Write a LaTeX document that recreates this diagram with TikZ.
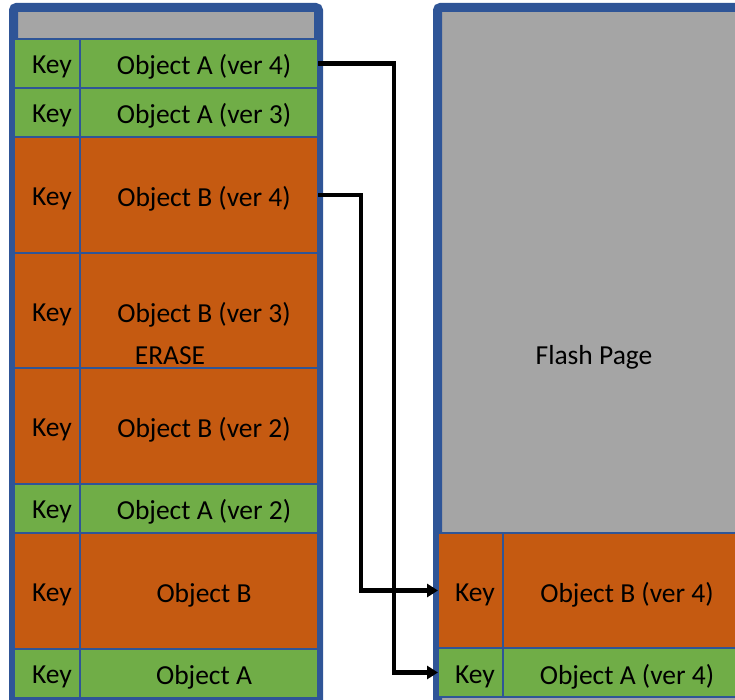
\documentclass[tikz,border=0pt]{standalone}
\usepackage{fontspec}
\setmainfont{Carlito}
\usetikzlibrary{arrows.meta}
\definecolor{pgreen}{HTML}{70AD47}
\definecolor{porange}{HTML}{C55A11}
\definecolor{pgray}{HTML}{A5A5A5}
\definecolor{pblue}{HTML}{2F5597}
\begin{document}
\begin{tikzpicture}[x=1pt,y=-1pt,
  page/.style={draw=pblue, line width=9pt, fill=pgray, rounded corners=3pt},
  cell/.style={draw=pblue, line width=1.5pt, inner sep=0pt, outer sep=0pt, anchor=north west},
  gcell/.style={cell, fill=pgreen},
  ocell/.style={cell, fill=porange},
  lbl/.style={font=\fontsize{27.5}{32}\selectfont, text=black, inner sep=0pt},
  conn/.style={line width=4.5pt, -{Triangle[length=11pt,width=13pt]}}]
\useasboundingbox (0,0) rectangle (735,700);
\clip (0,0) rectangle (735,700);
% pages
\draw[page] (13.5,7.5) rectangle (318.5,730);
\draw[page] (437.5,7.5) rectangle (780,730);
% left page rows
\node[gcell, minimum width=66pt, minimum height=49pt]  (k1) at (14,39)  {};
\node[gcell, minimum width=238pt, minimum height=49pt] (oA4) at (80,39) {};
\node[gcell, minimum width=66pt, minimum height=49pt]  (k2) at (14,88)  {};
\node[gcell, minimum width=238pt, minimum height=49pt] (oA3) at (80,88) {};
\node[ocell, minimum width=66pt, minimum height=116pt]  (k3) at (14,137)  {};
\node[ocell, minimum width=238pt, minimum height=116pt] (oB4) at (80,137) {};
\node[ocell, minimum width=66pt, minimum height=115pt]  (k4) at (14,253)  {};
\node[ocell, minimum width=238pt, minimum height=115pt] (oB3) at (80,253) {};
\node[ocell, minimum width=66pt, minimum height=116pt]  (k5) at (14,368)  {};
\node[ocell, minimum width=238pt, minimum height=116pt] (oB2) at (80,368) {};
\node[gcell, minimum width=66pt, minimum height=49pt]  (k6) at (14,484)  {};
\node[gcell, minimum width=238pt, minimum height=49pt] (oA2) at (80,484) {};
\node[ocell, minimum width=66pt, minimum height=116pt]  (k7) at (14,533)  {};
\node[ocell, minimum width=238pt, minimum height=116pt] (oB1) at (80,533) {};
\node[gcell, minimum width=66pt, minimum height=49pt]  (k8) at (14,649)  {};
\node[gcell, minimum width=238pt, minimum height=49pt] (oA1) at (80,649) {};
\draw[pblue, line width=3pt] (14,700) -- (318,700);
% right page rows
\node[ocell, minimum width=65pt, minimum height=115pt]  (rkB) at (438,533) {};
\node[ocell, minimum width=260pt, minimum height=115pt] (roB) at (503,533) {};
\node[gcell, minimum width=65pt, minimum height=49pt]   (rkA) at (438,648) {};
\node[gcell, minimum width=260pt, minimum height=49pt]  (roA) at (503,648) {};
% labels
\node[lbl] (t1) at (52,67) {Key};
\node[lbl] (t2) at (204,67) {Object A (ver 4)};
\node[lbl] (t3) at (52,116) {Key};
\node[lbl] (t4) at (204,116) {Object A (ver 3)};
\node[lbl] (t5) at (52,199) {Key};
\node[lbl] (t6) at (204,199) {Object B (ver 4)};
\node[lbl] (t7) at (52,315) {Key};
\node[lbl] (t8) at (204,315) {Object B (ver 3)};
\node[lbl] (t9) at (170,356) {ERASE};
\node[lbl] (t10) at (52,430) {Key};
\node[lbl] (t11) at (204,430) {Object B (ver 2)};
\node[lbl] (t12) at (52,512) {Key};
\node[lbl] (t13) at (204,512) {Object A (ver 2)};
\node[lbl] (t14) at (52,595) {Key};
\node[lbl] (t15) at (204,595) {Object B};
\node[lbl] (t16) at (52,677) {Key};
\node[lbl] (t17) at (204,677) {Object A};
\node[lbl] (t18) at (594,357) {Flash Page};
\node[lbl] (t19) at (475,595) {Key};
\node[lbl] (t20) at (627,595) {Object B (ver 4)};
\node[lbl] (t21) at (475,677) {Key};
\node[lbl] (t22) at (627,677) {Object A (ver 4)};
% connectors
\coordinate (jA) at (394,0);
\coordinate (jB) at (361,0);
\draw[conn] (oA4.east) -- (oA4.east -| jA) -- (jA |- rkA.west) -- (rkA.west);
\draw[conn] (oB4.east) -- (oB4.east -| jB) -- (jB |- rkB.west) -- (rkB.west);
\end{tikzpicture}
\end{document}
